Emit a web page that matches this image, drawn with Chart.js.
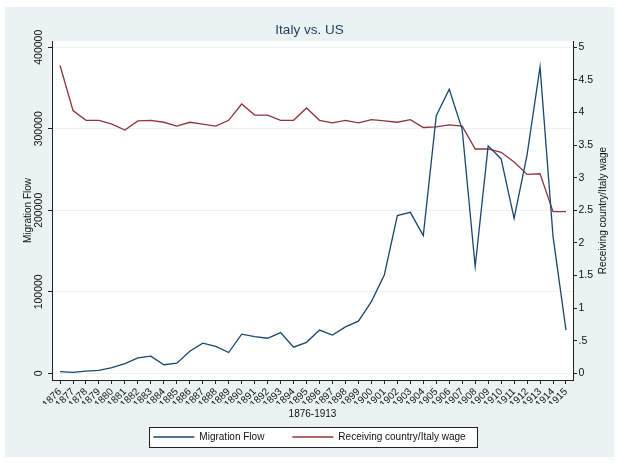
<!DOCTYPE html>
<html>
<head>
<meta charset="utf-8">
<title>Italy vs. US</title>
<script src="https://cdn.jsdelivr.net/npm/chart.js@4/dist/chart.umd.min.js"></script>
<style>
  body { margin: 0; background: #fff; }
  canvas { display: block; }
</style>
</head>
<body>
<canvas id="grafica" width="619" height="463"></canvas>
<script>
// years on the x axis
const years = [1876, 1877, 1878, 1879, 1880, 1881, 1882, 1883, 1884, 1885,
  1886, 1887, 1888, 1889, 1890, 1891, 1892, 1893, 1894, 1895,
  1896, 1897, 1898, 1899, 1900, 1901, 1902, 1903, 1904, 1905,
  1906, 1907, 1908, 1909, 1910, 1911, 1912, 1913, 1914, 1915];

// Migration Flow (left axis)
const migration = [2000, 1200, 2800, 3700, 7000, 12000, 19000, 21000, 10500, 12500,
  27000, 37000, 33000, 25500, 48000, 45000, 43000, 50000, 32000, 38000,
  53000, 47000, 57000, 64000, 88000, 121000, 193500, 197500, 169000, 316000,
  348500, 299000, 131000, 279000, 263000, 190000, 268000, 376000, 168000, 53000];

// Receiving country/Italy wage (right axis)
const wage = [4.72, 4.03, 3.88, 3.88, 3.82, 3.73, 3.87, 3.88, 3.85, 3.79,
  3.85, 3.82, 3.79, 3.88, 4.13, 3.96, 3.96, 3.88, 3.88, 4.07,
  3.88, 3.84, 3.88, 3.84, 3.89, 3.87, 3.85, 3.89, 3.77, 3.78,
  3.81, 3.79, 3.44, 3.44, 3.39, 3.24, 3.05, 3.06, 2.48, 2.48];

const flowTicks = [0, 100000, 200000, 300000, 400000];
const wageTicks = [0, 0.5, 1, 1.5, 2, 2.5, 3, 3.5, 4, 4.5, 5];

const FONT = '"Liberation Sans", Arial, Helvetica, sans-serif';
const AXIS = '#222';
const BG = '#eaf2f3';

document.addEventListener("DOMContentLoaded", () => {
	Chart.defaults.font.family = FONT;
	Chart.defaults.color = '#111';
	Grafica();
});

//fondo, caja de la leyenda y titulo del eje derecho
const stataFrame = {
	id: 'stataFrame',
	beforeDraw(chart) {
		const ctx = chart.ctx;
		const area = chart.chartArea;
		ctx.save();
		ctx.fillStyle = '#fff';
		ctx.fillRect(0, 0, chart.width, chart.height);
		ctx.fillStyle = BG;
		ctx.fillRect(5, 7, chart.width - 10, chart.height - 13);
		ctx.fillStyle = '#fff';
		ctx.fillRect(area.left, area.top, area.right - area.left, area.bottom - area.top);

		const hb = chart.legend ? chart.legend.legendHitBoxes : [];
		if (hb.length) {
			const first = hb[0];
			const last = hb[hb.length - 1];
			const x0 = Math.round(first.left - 4);
			const x1 = Math.round(last.left + last.width + 11);
			const cy = Math.round(first.top + first.height / 2);
			ctx.fillStyle = '#fff';
			ctx.fillRect(x0, cy - 10, x1 - x0, 20);
			ctx.strokeStyle = AXIS;
			ctx.lineWidth = 1;
			ctx.strokeRect(x0 + 0.5, cy - 10 + 0.5, x1 - x0, 20);
		}
		ctx.restore();
	},
	afterDraw(chart) {
		const ctx = chart.ctx;
		const area = chart.chartArea;
		ctx.save();
		ctx.translate(603, (area.top + area.bottom) / 2);
		ctx.rotate(-Math.PI / 2);
		ctx.font = '10px ' + FONT;
		ctx.fillStyle = '#111';
		ctx.textAlign = 'center';
		ctx.textBaseline = 'middle';
		ctx.fillText('Receiving country/Italy wage', 0, 0);
		ctx.restore();
	}
};

function Grafica() {
	const canvas2d = document.getElementById('grafica').getContext('2d');

	var chart = new Chart(canvas2d, {
		type: 'line',
		data: {
			datasets: [
				{
					label: 'Migration Flow',
					data: years.map((yr, i) => ({x: yr, y: migration[i]})),
					yAxisID: 'y',
					borderColor: '#1a476f',
					backgroundColor: '#1a476f',
					borderWidth: 1.3,
					pointRadius: 0,
					pointBorderWidth: 1.3,
					pointStyle: 'line',
					tension: 0,
					fill: false
				},
				{
					label: 'Receiving country/Italy wage',
					data: years.map((yr, i) => ({x: yr, y: wage[i]})),
					yAxisID: 'y1',
					borderColor: '#90353b',
					backgroundColor: '#90353b',
					borderWidth: 1.3,
					pointRadius: 0,
					pointBorderWidth: 1.3,
					pointStyle: 'line',
					tension: 0,
					fill: false
				}
			]
		},
		options: {
			responsive: false,
			devicePixelRatio: 1,
			animation: false,
			layout: {padding: {left: 0, right: 0, top: 0, bottom: 11}},
			plugins: {
				tooltip: {enabled: false},
				title: {
					display: true,
					text: 'Italy vs. US',
					color: '#1f3a5f',
					font: {size: 13.5, weight: 'normal'},
					padding: {top: 21.9, bottom: 2.9}
				},
				legend: {
					position: 'bottom',
					labels: {
						usePointStyle: true,
						pointStyleWidth: 41,
						padding: 28,
						color: '#111',
						font: {size: 10}
					}
				}
			},
			scales: {
				x: {
					type: 'linear',
					min: 1875.38,
					max: 1915.54,
					afterBuildTicks: s => { s.ticks = years.map(v => ({value: v})); },
					afterFit: s => { s.height = 24; },
					ticks: {
						autoSkip: false,
						minRotation: 45,
						maxRotation: 45,
						padding: 2,
						font: {size: 10},
						color: '#111',
						callback: v => String(v)
					},
					grid: {drawOnChartArea: false, tickLength: 4, tickColor: AXIS},
					border: {color: AXIS, width: 1},
					title: {
						display: true,
						text: '1876-1913',
						color: '#111',
						font: {size: 10},
						padding: {top: 0, bottom: -16}
					}
				},
				y: {
					type: 'linear',
					position: 'left',
					min: -8200,
					max: 407700,
					afterBuildTicks: s => { s.ticks = flowTicks.map(v => ({value: v})); },
					afterFit: s => { s.width = 52; },
					ticks: {
						minRotation: 90,
						maxRotation: 90,
						crossAlign: 'center',
						padding: -9,
						font: {size: 10.5},
						color: '#111',
						callback: v => String(v)
					},
					grid: {color: BG, tickColor: AXIS, tickLength: 4, lineWidth: 1},
					border: {color: AXIS, width: 1},
					title: {
						display: true,
						text: 'Migration Flow',
						color: '#111',
						font: {size: 10},
						padding: {top: 22.5, bottom: 0}
					}
				},
				y1: {
					type: 'linear',
					position: 'right',
					min: -0.1025,
					max: 5.096,
					afterBuildTicks: s => { s.ticks = wageTicks.map(v => ({value: v})); },
					afterFit: s => { s.width = 46; },
					ticks: {
						padding: 1.5,
						font: {size: 10.5},
						color: '#111',
						callback: v => v === 0 ? '0' : String(v).replace(/^0\./, '.')
					},
					grid: {drawOnChartArea: false, tickColor: AXIS, tickLength: 4},
					border: {color: AXIS, width: 1}
				}
			}
		},
		plugins: [stataFrame]
	});
}
</script>
</body>
</html>
